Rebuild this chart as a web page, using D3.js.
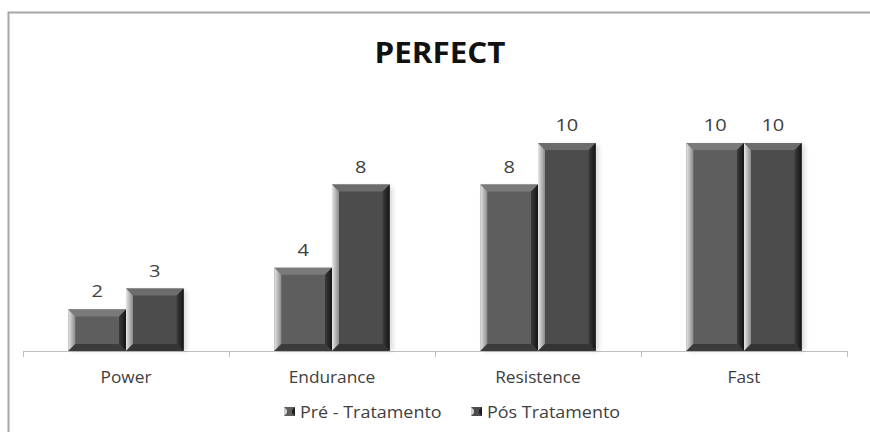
<!DOCTYPE html>
<html><head><meta charset="utf-8">
<script src="https://cdn.jsdelivr.net/npm/d3@7/dist/d3.min.js"></script>
<style>body{margin:0;background:#fff}svg{display:block}</style>
</head><body>
<svg id="c" width="870" height="432"></svg>
<script>
const title = "PERFECT";
const categories = ["Power", "Endurance", "Resistence", "Fast"];
const seriesNames = ["Pré - Tratamento", "Pós Tratamento"];
const preValues = [2, 4, 8, 10];
const posValues = [3, 8, 10, 10];
const yMax = 12;

const svg = d3.select("#c");
const font = "'Open Sans', sans-serif";
const plotLeft = 23, plotRight = 847, plotBase = 351, plotTop = 101.4;

function stretch(sel, sx) {
  sel.each(function () {
    const L = this.getComputedTextLength();
    d3.select(this).attr("textLength", L * sx).attr("lengthAdjust", "spacingAndGlyphs");
  });
  return sel;
}

// outer frame
svg.append("rect").attr("x", 8.5).attr("y", 12.5).attr("width", 900).attr("height", 500)
  .attr("fill", "none").attr("stroke", "#a6a6a6").attr("stroke-width", 2);

const x0 = d3.scaleBand().domain(categories).range([plotLeft, plotRight]).padding(0);
const x1 = d3.scaleBand().domain(seriesNames).range([x0.bandwidth() * 0.22, x0.bandwidth() * 0.78]).padding(0);
const y = d3.scaleLinear().domain([0, yMax]).range([plotBase, plotTop]);

const defs = svg.append("defs");
const lg = defs.append("linearGradient").attr("id", "lb").attr("x1", 0).attr("x2", 1).attr("y1", 0).attr("y2", 0);
lg.append("stop").attr("offset", 0).attr("stop-color", "#e6e6e6");
lg.append("stop").attr("offset", 1).attr("stop-color", "#8a8a8a");
const rg = defs.append("linearGradient").attr("id", "rb").attr("x1", 0).attr("x2", 1).attr("y1", 0).attr("y2", 0);
rg.append("stop").attr("offset", 0).attr("stop-color", "#3a3a3a");
rg.append("stop").attr("offset", 1).attr("stop-color", "#151515");
const f = defs.append("filter").attr("id", "sh").attr("x", "-20%").attr("y", "-20%").attr("width", "150%").attr("height", "150%");
f.append("feGaussianBlur").attr("stdDeviation", 2.5);

const faces = ["#5e5e5e", "#4c4c4c"];
const tops = ["#7a7a7a", "#6c6c6c"];
const bottoms = ["#3c3c3c", "#343434"];

function bevelBar(g, x, yTop, w, h, i, b) {
  g.append("rect").attr("x", x + 3).attr("y", yTop + 2).attr("width", w).attr("height", h - 2)
    .attr("fill", "#000").attr("opacity", 0.15).attr("filter", "url(#sh)");
  const x2 = x + w, y2 = yTop + h;
  g.append("rect").attr("x", x).attr("y", yTop).attr("width", w).attr("height", h).attr("fill", faces[i]);
  const poly = (pts, fill) => g.append("polygon").attr("points", pts.map(p => p.join(",")).join(" ")).attr("fill", fill);
  poly([[x, yTop], [x2, yTop], [x2 - b, yTop + b], [x + b, yTop + b]], tops[i]);
  poly([[x, yTop], [x + b, yTop + b], [x + b, y2 - b], [x, y2]], "url(#lb)");
  poly([[x2, yTop], [x2, y2], [x2 - b, y2 - b], [x2 - b, yTop + b]], "url(#rb)");
  poly([[x, y2], [x + b, y2 - b], [x2 - b, y2 - b], [x2, y2]], bottoms[i]);
}

// axis line and ticks
svg.append("line").attr("x1", plotLeft).attr("x2", plotRight).attr("y1", plotBase + 0.5).attr("y2", plotBase + 0.5)
  .attr("stroke", "#bfbfbf").attr("stroke-width", 1);
const tickXs = categories.map(c => x0(c)).concat([plotRight]);
svg.selectAll(".tk").data(tickXs).enter().append("line")
  .attr("x1", d => Math.round(d) + 0.5).attr("x2", d => Math.round(d) + 0.5)
  .attr("y1", plotBase).attr("y2", plotBase + 6).attr("stroke", "#bfbfbf");

const data = categories.map((c, k) => ({ c, vals: [preValues[k], posValues[k]] }));
const gBars = svg.append("g");
data.forEach(d => {
  d.vals.forEach((v, i) => {
    const bx = x0(d.c) + x1(seriesNames[i]);
    const bw = x1.bandwidth();
    const yt = y(v);
    bevelBar(gBars, bx, yt, bw, plotBase - yt, i, 7);
    stretch(svg.append("text").attr("x", bx + bw / 2).attr("y", yt - 12).attr("text-anchor", "middle")
      .attr("font-family", font).attr("font-size", 16).attr("fill", "#404040").text(v), 1.25);
  });
});

stretch(svg.selectAll(".cl").data(categories).enter().append("text")
  .attr("x", d => x0(d) + x0.bandwidth() / 2).attr("y", 383).attr("text-anchor", "middle")
  .attr("font-family", font).attr("font-size", 16).attr("fill", "#404040").text(d => d), 1.08);

stretch(svg.append("text").attr("x", 440).attr("y", 63).attr("text-anchor", "middle")
  .attr("font-family", font).attr("font-size", 28).attr("font-weight", 700).attr("fill", "#111").text(title), 1.12);

const legX = [284, 471];
seriesNames.forEach((s, i) => {
  const g = svg.append("g").attr("transform", `translate(${legX[i]},${407})`);
  const b = 3, sz = 11;
  g.append("rect").attr("x", 0).attr("y", 0).attr("width", sz).attr("height", sz - 2).attr("fill", faces[i]);
  g.append("polygon").attr("points", `0,0 ${b},${b} ${b},${sz - 2 - b} 0,${sz - 2}`).attr("fill", "#d0d0d0");
  g.append("polygon").attr("points", `${sz},0 ${sz},${sz - 2} ${sz - b},${sz - 2 - b} ${sz - b},${b}`).attr("fill", "#1e1e1e");
  stretch(g.append("text").attr("x", 16).attr("y", 11).attr("font-family", font).attr("font-size", 16)
    .attr("fill", "#404040").text(s), 1.12);
});
</script>
</body></html>
